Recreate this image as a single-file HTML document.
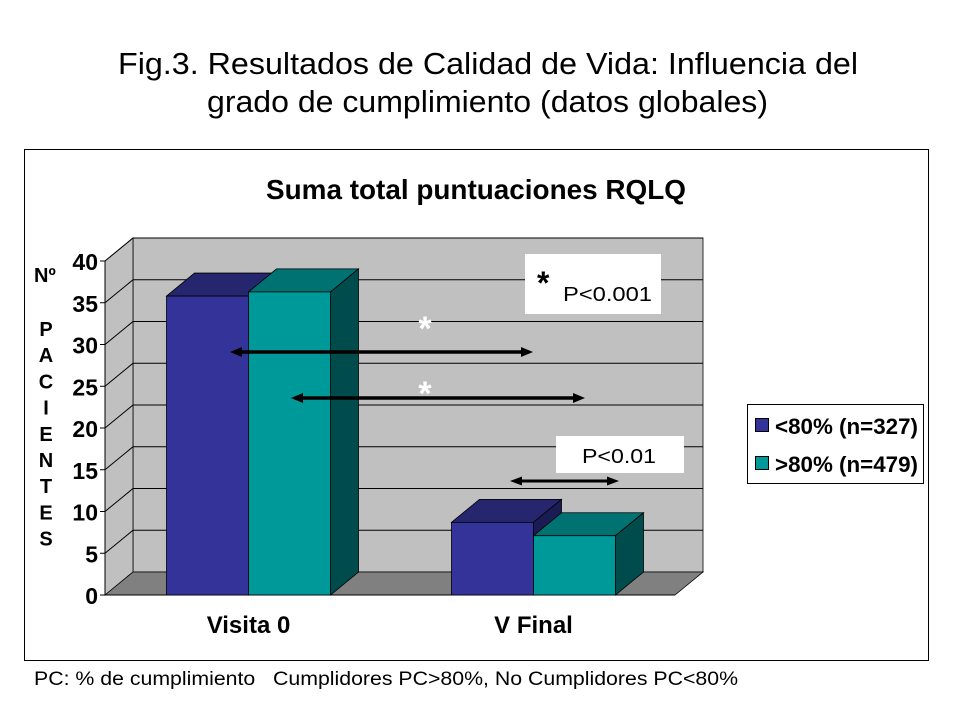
<!DOCTYPE html>
<html><head><meta charset="utf-8"><style>
body{margin:0;background:#fff;}
svg{display:block;font-family:"Liberation Sans",sans-serif;}
</style></head><body>
<svg id="c" width="960" height="720" xmlns="http://www.w3.org/2000/svg">
<text x="118" y="74" font-size="31" textLength="740" lengthAdjust="spacingAndGlyphs">Fig.3. Resultados de  Calidad de Vida: Influencia del</text>
<text x="207" y="112" font-size="31" textLength="561" lengthAdjust="spacingAndGlyphs">grado de cumplimiento (datos globales)</text>
<rect x="24.5" y="149.5" width="904" height="511" fill="#fff" stroke="#000"/>
<text x="266" y="199" font-size="28" font-weight="bold" textLength="420" lengthAdjust="spacingAndGlyphs">Suma total puntuaciones RQLQ</text>
<g id="plot"></g>
<text x="34" y="282" font-size="20" font-weight="bold">Nº</text>
<g id="ylab" font-size="20" font-weight="bold" text-anchor="middle"></g>
<rect x="525" y="254" width="136" height="60" fill="#fff"/>
<text x="537" y="294" font-size="32" font-weight="bold">*</text>
<text x="563" y="301" font-size="20" textLength="89" lengthAdjust="spacingAndGlyphs">P&lt;0.001</text>
<rect x="556" y="436" width="128" height="37" fill="#fff"/>
<text x="582" y="463" font-size="20" textLength="74" lengthAdjust="spacingAndGlyphs">P&lt;0.01</text>
<text x="425" y="340" font-size="34" font-weight="bold" fill="#fff" text-anchor="middle">*</text>
<text x="425" y="405" font-size="34" font-weight="bold" fill="#fff" text-anchor="middle">*</text>
<g id="arrows"></g>
<rect x="747.5" y="404.5" width="176" height="79" fill="#fff" stroke="#000"/>
<rect x="755.5" y="418.5" width="13" height="13" fill="#333399" stroke="#000"/>
<text x="775" y="434" font-size="22" font-weight="bold" textLength="143" lengthAdjust="spacingAndGlyphs">&lt;80% (n=327)</text>
<rect x="755.5" y="456.5" width="13" height="13" fill="#009999" stroke="#000"/>
<text x="775" y="472" font-size="22" font-weight="bold" textLength="143" lengthAdjust="spacingAndGlyphs">&gt;80% (n=479)</text>
<text x="34" y="685" font-size="19" textLength="704" lengthAdjust="spacingAndGlyphs" xml:space="preserve" style="white-space:pre">PC: % de cumplimiento   Cumplidores PC&gt;80%, No Cumplidores PC&lt;80%</text>
</svg>
<script>
const categories = ["Visita 0", "V Final"];
const seriesUnder80 = [35.8, 8.7];
const seriesOver80 = [36.3, 7.1];
const yTicks = [0, 5, 10, 15, 20, 25, 30, 35, 40];

const NS = "http://www.w3.org/2000/svg";
const X0 = 105, X1 = 675, Y0 = 595, YMAX = 40, PX = 8.35, DX = 28, DY = -23;
const y = v => Y0 - v * PX;
const catW = (X1 - X0) / categories.length;
const barW = 82;
const xBar = (ci, si) => X0 + ci * catW + catW / 2 - barW + si * barW + 1;

function mk(parent, tag, attrs) {
  const e = document.createElementNS(NS, tag);
  for (const k in attrs) e.setAttribute(k, attrs[k]);
  parent.appendChild(e);
  return e;
}
const plot = document.getElementById("plot");
const pts = a => a.map(p => p.join(",")).join(" ");

let wall = mk(plot, "polygon", {points: pts([[X0 + DX, y(YMAX) + DY], [X1 + DX, y(YMAX) + DY], [X1 + DX, Y0 + DY], [X0 + DX, Y0 + DY]]), fill: "#c0c0c0", stroke: "#000", "stroke-width": 0.8});


let side = mk(plot, "polygon", {points: pts([[X0, y(YMAX)], [X0 + DX, y(YMAX) + DY], [X0 + DX, Y0 + DY], [X0, Y0]]), fill: "#c0c0c0", stroke: "#000", "stroke-width": 0.8});


let floor = mk(plot, "polygon", {points: pts([[X0, Y0], [X0 + DX, Y0 + DY], [X1 + DX, Y0 + DY], [X1, Y0]]), fill: "#808080", stroke: "#000", "stroke-width": 0.8});



yTicks.forEach(t => {
  if (t > 0) {
    let g = mk(plot, "polyline", {points: pts([[X0, y(t)], [X0 + DX, y(t) + DY], [X1 + DX, y(t) + DY]]), fill: "none", stroke: "#000", "stroke-width": 1});
    
    
  }
  let tk = mk(plot, "line", {x1: X0 - 5, x2: X0, y1: y(t), y2: y(t), stroke: "#000"});
  
  
  let lb = mk(plot, "text", {x: X0 - 7, y: y(t) + 9, "font-size": 23, "font-weight": "bold", "text-anchor": "end"});
  lb.textContent = t;
  
  
});
let ax = mk(plot, "line", {x1: X0, x2: X0, y1: y(YMAX), y2: Y0, stroke: "#000"});


let xa = mk(plot, "line", {x1: X0, x2: X1, y1: Y0, y2: Y0, stroke: "#000"});



const series = [[seriesUnder80, ["#333399", "#26266e", "#1c1c55"], "under80"], [seriesOver80, ["#009999", "#007272", "#004c4c"], "over80"]];
categories.forEach((c, ci) => {
  series.forEach(([vals, cols, nm], si) => {
    const x = xBar(ci, si), t = y(vals[ci]);
    const g = mk(plot, "g", {stroke: "#000", "stroke-width": 0.8});
    
    
    mk(g, "polygon", {points: pts([[x, t], [x + DX, t + DY], [x + barW + DX, t + DY], [x + barW, t]]), fill: cols[1]});
    mk(g, "polygon", {points: pts([[x + barW, t], [x + barW + DX, t + DY], [x + barW + DX, Y0 + DY], [x + barW, Y0]]), fill: cols[2]});
    mk(g, "rect", {x: x, y: t, width: barW, height: Y0 - t, fill: cols[0]});
  });
  let cl = mk(plot, "text", {x: X0 + ci * catW + catW / 2 + 1, y: 633, "font-size": 24, "font-weight": "bold", "text-anchor": "middle"});
  cl.textContent = c;
  
  
});

const yl = document.getElementById("ylab");
"PACIENTES".split("").forEach((ch, i) => {
  let t = mk(yl, "text", {x: 46, y: 336 + i * 26.2});
  t.textContent = ch;
});

const arr = document.getElementById("arrows");
function dbl(x1, x2, yy, w, h, name) {
  const g = mk(arr, "g", {});
  
  
  mk(g, "line", {x1: x1 + 8, x2: x2 - 8, y1: yy, y2: yy, stroke: "#000", "stroke-width": w});
  mk(g, "polygon", {points: pts([[x1, yy], [x1 + 12, yy - h], [x1 + 12, yy + h]]), fill: "#000"});
  mk(g, "polygon", {points: pts([[x2, yy], [x2 - 12, yy - h], [x2 - 12, yy + h]]), fill: "#000"});
}
dbl(230, 533, 352, 3.5, 5, "arrow-1");
dbl(291, 585, 398, 3.5, 5, "arrow-2");
dbl(510, 619, 481, 3, 4.5, "arrow-3");
</script>
</body></html>
